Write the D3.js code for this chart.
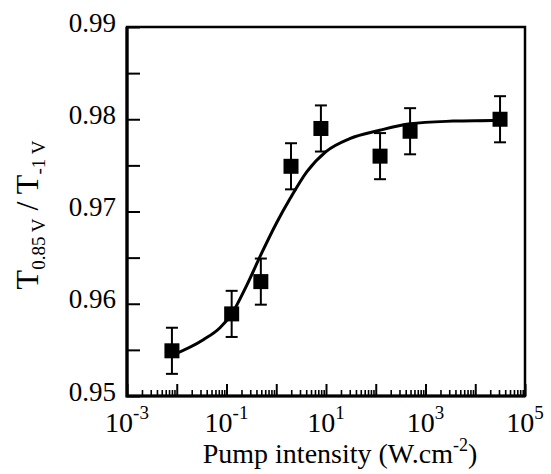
<!DOCTYPE html>
<html>
<head>
<meta charset="utf-8">
<script src="https://cdn.jsdelivr.net/npm/d3@7"></script>
<style>
  body { margin: 0; background: #fff; }
  svg { display: block; }
  svg text { font-family: "Liberation Serif", "Times New Roman", serif; fill: #000; }
</style>
</head>
<body>
<div id="chart"></div>
<script>
// measured points
const intensity = [0.008, 0.127, 0.49, 1.98, 7.9, 122, 490, 31500];
const ratio = [0.9549, 0.9589, 0.9624, 0.9749, 0.9790, 0.9760, 0.9787, 0.9800];
const ratioErr = [0.0025, 0.0025, 0.0025, 0.0025, 0.0025, 0.0025, 0.0025, 0.0025];

// fitted curve
const fitIntensity = [0.008, 0.0342, 0.074, 0.127, 0.255, 0.5, 1.0, 1.9, 4.1, 10, 30, 120, 490, 3600, 27000, 32000];
const fitRatio = [0.9544, 0.9561, 0.9574, 0.9589, 0.9620, 0.9654, 0.9687, 0.9714, 0.9743, 0.9765, 0.9779, 0.9788, 0.9795, 0.9798, 0.9799, 0.9800];

// axis ticks
const xTickExponents = [-3, -1, 1, 3, 5];
const yTickLabels = ['0.95', '0.96', '0.97', '0.98', '0.99'];

const width = 551;
const height = 474;
const margin = { top: 27, right: 26, bottom: 78, left: 127 };

const svg = d3.select('#chart')
  .append('svg')
  .attr('width', width)
  .attr('height', height);

const x = d3.scaleLog()
  .domain([1e-3, 1e5])
  .range([margin.left, width - margin.right]);

const y = d3.scaleLinear()
  .domain([0.95, 0.99])
  .range([height - margin.bottom, margin.top]);

// tick values
const yMajor = yTickLabels.map(Number);
const yMinor = yMajor.slice(1).map((v, i) => (v + yMajor[i]) / 2);
const xMajor = d3.range(-3, 6).map((e) => Math.pow(10, e));
const xMinor = [];
xMajor.slice(0, -1).forEach((d) => {
  for (let k = 2; k <= 9; k++) xMinor.push(k * d);
});

const bottom = height - margin.bottom;

// x ticks (pointing inward)
svg.append('g')
  .attr('transform', `translate(0,${bottom})`)
  .call(d3.axisBottom(x).tickValues(xMinor).tickSize(-6).tickSizeOuter(0).tickFormat(''))
  .call((g) => g.select('.domain').remove())
  .call((g) => g.selectAll('line').attr('stroke-width', 1.6));

svg.append('g')
  .attr('transform', `translate(0,${bottom})`)
  .call(d3.axisBottom(x).tickValues(xMajor).tickSize(-12).tickSizeOuter(0).tickFormat(''))
  .call((g) => g.select('.domain').remove())
  .call((g) => g.selectAll('line').attr('stroke-width', 2));

// y ticks + labels
const yAxis = svg.append('g')
  .attr('transform', `translate(${margin.left},0)`)
  .call(d3.axisLeft(y)
    .tickValues(yMajor.concat(yMinor))
    .tickSize(-13)
    .tickSizeOuter(0)
    .tickPadding(11)
    .tickFormat((d) => {
      const i = yMajor.indexOf(d);
      return i >= 0 ? yTickLabels[i] : '';
    }))
  .call((g) => g.select('.domain').remove());

yAxis.selectAll('line').attr('stroke-width', 2);
yAxis.selectAll('text')
  .attr('dy', '0.15em')
  .style('font-size', '27px');

// frame
svg.append('rect')
  .attr('x', margin.left)
  .attr('y', margin.top)
  .attr('width', width - margin.left - margin.right)
  .attr('height', height - margin.top - margin.bottom)
  .attr('fill', 'none')
  .attr('stroke', '#000')
  .attr('stroke-width', 2.5);

// thicker left and bottom spines
svg.append('path')
  .attr('d', `M${margin.left},${margin.top}V${bottom}H${width - margin.right}`)
  .attr('fill', 'none')
  .attr('stroke', '#000')
  .attr('stroke-width', 3.2);

// x tick labels as 10^n
const xLabels = svg.append('g')
  .selectAll('text')
  .data(xTickExponents)
  .enter()
  .append('text')
  .attr('x', (d) => x(Math.pow(10, d)))
  .attr('y', 432)
  .attr('text-anchor', 'middle')
  .style('font-size', '28px');

xLabels.append('tspan').text('10');
xLabels.append('tspan')
  .attr('dy', -13)
  .style('font-size', '19px')
  .text((d) => (d < 0 ? '-' : '') + Math.abs(d));

// x axis title
const xTitle = svg.append('text')
  .attr('x', 340)
  .attr('y', 463)
  .attr('text-anchor', 'middle')
  .style('font-size', '28px');
xTitle.append('tspan').text('Pump intensity (W.cm');
xTitle.append('tspan').attr('dy', -12).style('font-size', '18px').text('-2');
xTitle.append('tspan').attr('dy', 12).text(')');

// y axis title
const yTitle = svg.append('text')
  .attr('transform', 'translate(38,215) rotate(-90)')
  .attr('text-anchor', 'middle')
  .style('font-size', '32px');
yTitle.append('tspan').text('T');
yTitle.append('tspan').attr('dy', 7).style('font-size', '19px').text('0.85 V');
yTitle.append('tspan').attr('dy', -7).text(' / T');
yTitle.append('tspan').attr('dy', 7).style('font-size', '19px').text('-1 V');

// fitted curve
const line = d3.line()
  .x((d) => x(d[0]))
  .y((d) => y(d[1]))
  .curve(d3.curveMonotoneX);

svg.append('path')
  .datum(fitIntensity.map((d, i) => [d, fitRatio[i]]))
  .attr('d', line)
  .attr('fill', 'none')
  .attr('stroke', '#000')
  .attr('stroke-width', 3);

// error bars
const points = intensity.map((d, i) => ({ i: d, t: ratio[i], e: ratioErr[i] }));
const capW = 6;

const bars = svg.append('g')
  .attr('stroke', '#000')
  .attr('stroke-width', 2);

bars.selectAll('.stem')
  .data(points)
  .enter()
  .append('line')
  .attr('x1', (d) => x(d.i))
  .attr('x2', (d) => x(d.i))
  .attr('y1', (d) => y(d.t - d.e))
  .attr('y2', (d) => y(d.t + d.e));

bars.selectAll('.capTop')
  .data(points)
  .enter()
  .append('line')
  .attr('x1', (d) => x(d.i) - capW)
  .attr('x2', (d) => x(d.i) + capW)
  .attr('y1', (d) => y(d.t + d.e))
  .attr('y2', (d) => y(d.t + d.e));

bars.selectAll('.capBot')
  .data(points)
  .enter()
  .append('line')
  .attr('x1', (d) => x(d.i) - capW)
  .attr('x2', (d) => x(d.i) + capW)
  .attr('y1', (d) => y(d.t - d.e))
  .attr('y2', (d) => y(d.t - d.e));

// square markers
const size = 15;
svg.append('g')
  .selectAll('rect')
  .data(points)
  .enter()
  .append('rect')
  .attr('x', (d) => x(d.i) - size / 2)
  .attr('y', (d) => y(d.t) - size / 2)
  .attr('width', size)
  .attr('height', size)
  .attr('fill', '#000');
</script>
</body>
</html>
